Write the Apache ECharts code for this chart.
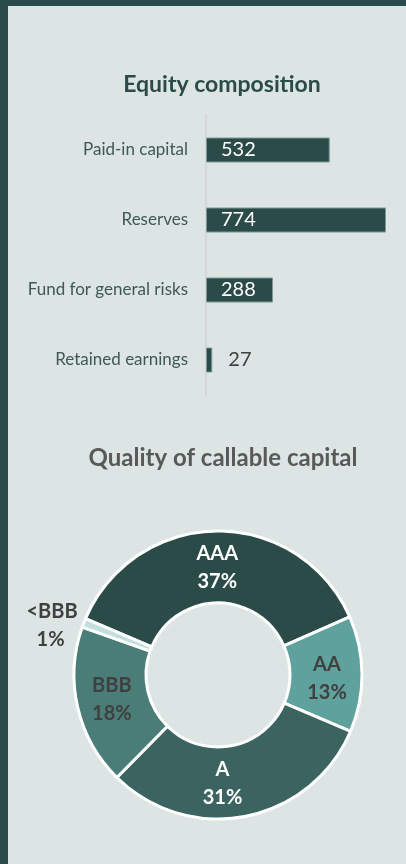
<!DOCTYPE html>
<html><head><meta charset="utf-8">
<script src="https://cdn.jsdelivr.net/npm/echarts@6/dist/echarts.min.js"></script>
<style>html,body{margin:0;padding:0;background:#dce5e3;}#c{width:406px;height:864px;}</style>
</head><body><div id="c"></div>
<script>
const equityCategories = ['Paid-in capital', 'Reserves', 'Fund for general risks', 'Retained earnings'];
const equityValues = [532, 774, 288, 27];
const ratingNames = ['AAA', 'AA', 'A', 'BBB', '<BBB'];
const ratingShares = [37, 13, 31, 18, 1];
const ratingColors = ['#2b4b49', '#5fa19c', '#3b635f', '#4a7d78', '#c3dedc'];
const ratingLabelColors = ['#ffffff', '#404040', '#ffffff', '#404040', '#404040'];
const ratingLabelShift = [[0, 4], [-2, 4], [-17, 0], [2, 0], [16, 7]];

const FONT = 'Lato';
const chart = echarts.init(document.getElementById('c'));

const barData = equityValues.map(v => {
  const small = v < 100;
  return {
    value: v,
    label: small ? {position: 'right', distance: 16, color: '#404040'} : {position: 'insideLeft', distance: 15, color: '#ffffff'}
  };
});

const pieData = ratingNames.map((n, i) => {
  const d = {name: n, value: ratingShares[i], itemStyle: {color: ratingColors[i]},
    label: {color: ratingLabelColors[i], offset: ratingLabelShift[i]}};
  if (n === '<BBB') {
    d.label.position = 'outside';
    d.labelLine = {show: false, length: 12, length2: 6};
  }
  return d;
});

chart.setOption({
  backgroundColor: '#dce5e3',
  animation: false,
  graphic: [
    {type: 'rect', shape: {x: 0, y: 0, width: 406, height: 6}, style: {fill: '#2b4b4a'}},
    {type: 'rect', shape: {x: 0, y: 0, width: 8, height: 864}, style: {fill: '#2b4b4a'}}
  ],
  title: [
    {text: 'Equity composition', left: 217, top: 68, textAlign: 'center',
     textStyle: {fontFamily: FONT, fontWeight: 'bold', fontSize: 23, color: '#2b4b49'}},
    {text: 'Quality of callable capital', left: 218, top: 441, textAlign: 'center',
     textStyle: {fontFamily: FONT, fontWeight: 'bold', fontSize: 24, color: '#595959'}}
  ],
  grid: {left: 206, top: 115, height: 280, right: 20, containLabel: false},
  xAxis: {type: 'value', min: 0, max: Math.max(...equityValues), show: false},
  yAxis: {
    type: 'category', data: equityCategories, inverse: true,
    axisLine: {show: true, lineStyle: {color: '#d6d6da', width: 2}},
    axisTick: {show: false},
    axisLabel: {margin: 18, fontFamily: FONT, fontSize: 17, color: '#3f5856'}
  },
  series: [
    {
      type: 'bar', data: barData, barWidth: 25,
      itemStyle: {color: '#2b4b49', borderColor: '#7d9896', borderWidth: 1},
      label: {show: true, fontFamily: FONT, fontSize: 20}
    },
    {
      type: 'pie', center: [218, 675], radius: [72, 144], startAngle: 157, clockwise: true,
      data: pieData,
      itemStyle: {borderColor: '#ffffff', borderWidth: 3},
      label: {show: true, position: 'inside', fontFamily: FONT, fontWeight: 'bold', fontSize: 20, lineHeight: 28,
        formatter: p => p.name === '<BBB'
          ? p.name + '\n{p|' + p.value + '%}'
          : p.name + '\n' + p.value + '%',
        rich: {p: {padding: [0, 13, 0, 0], fontFamily: FONT, fontWeight: 'bold', fontSize: 20, lineHeight: 28, color: '#404040'}}},
      labelLine: {show: false},
      emphasis: {disabled: true}
    }
  ]
});
</script></body></html>
